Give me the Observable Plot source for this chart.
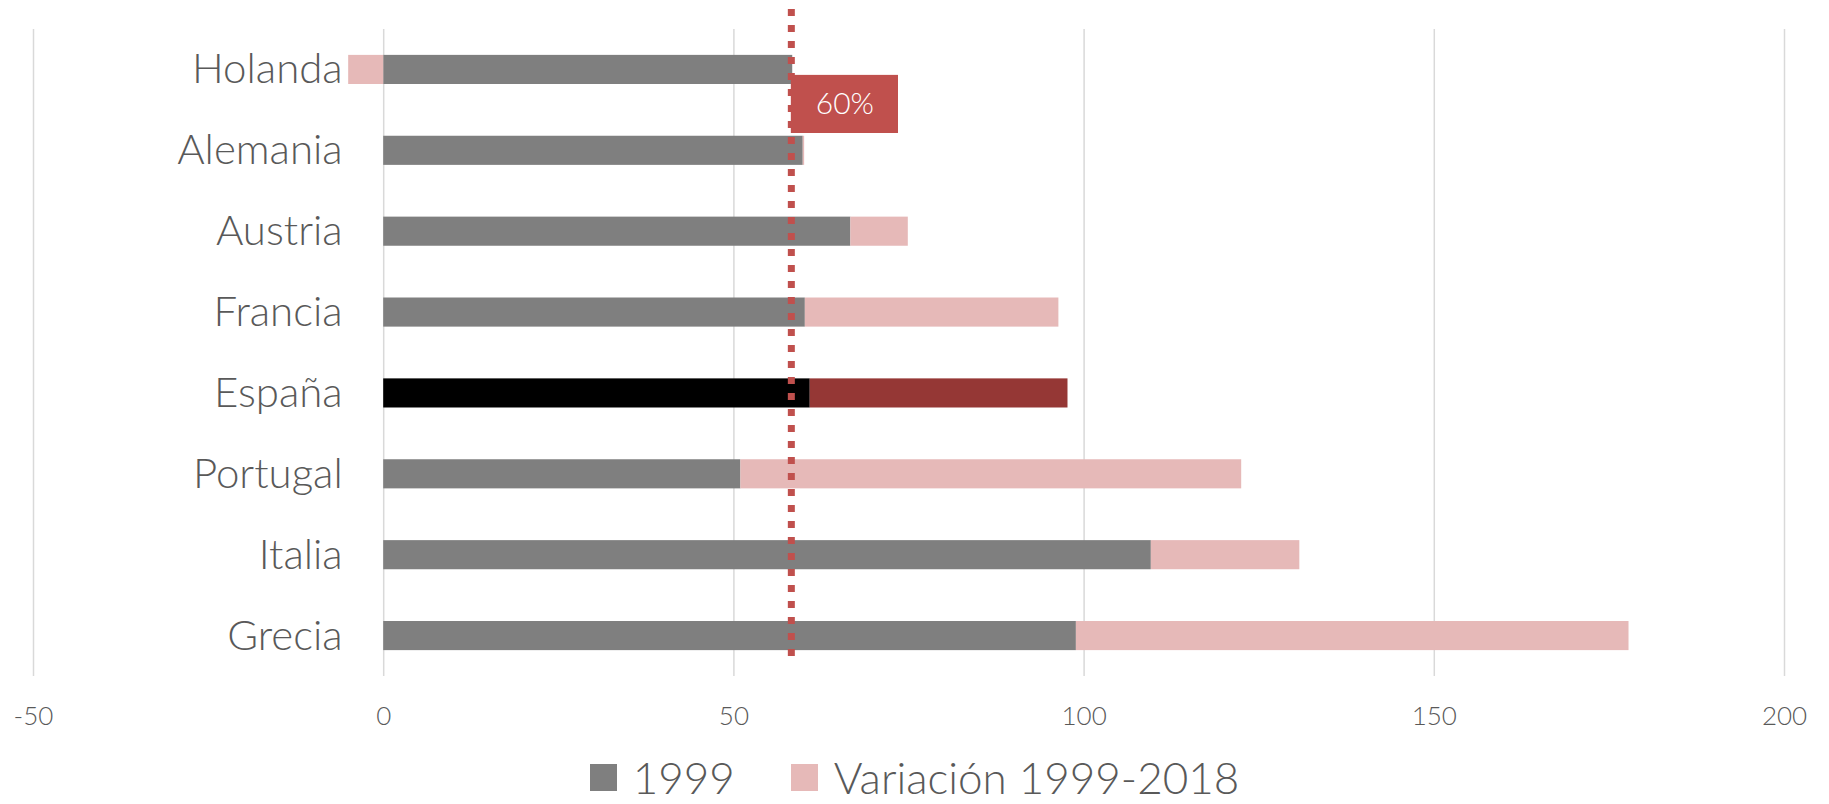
<!DOCTYPE html>
<html>
<head>
<meta charset="utf-8">
<script src="https://cdn.jsdelivr.net/npm/d3@7"></script>
<script src="https://cdn.jsdelivr.net/npm/@observablehq/plot@0.6"></script>
<style>
  html, body { margin: 0; padding: 0; background: #fff; }
  body { width: 1829px; height: 804px; overflow: hidden; font-family: "Lato", "Open Sans", sans-serif; font-weight: 300; color: #595959; }
  #legend { display: flex; justify-content: center; align-items: center; height: 50px; margin-top: 2px; }
  .item { display: flex; align-items: center; }
  .sw { width: 27px; height: 27px; margin-right: 16px; }
  .lbl { font-size: 44px; line-height: 1; }
</style>
</head>
<body>
<div id="chart"></div>
<div id="legend"></div>
<script>
// ---- data ----
const countries = ["Holanda", "Alemania", "Austria", "Francia", "España", "Portugal", "Italia", "Grecia"];
const debt1999  = [58.4, 59.9, 66.7, 60.2, 60.9, 51.0, 109.6, 98.9];
const variation = [-5.0, 0.2, 8.2, 36.2, 36.8, 71.5, 21.2, 78.9];
const seriesNames = ["1999", "Variación 1999-2018"];
const xTicks = [-50, 0, 50, 100, 150, 200];
const refValue = 58.2;
const refLabel = "60%";
const refBoxEnd = 73.5;
const highlight = "España";

// ---- colours ----
const colors = { "1999": "#7F7F7F", "Variación 1999-2018": "#E6B9B8" };
const hiColors = { "1999": "#000000", "Variación 1999-2018": "#953735" };

const rows = [];
countries.forEach((c, i) => {
  rows.push({ country: c, series: seriesNames[0], value: debt1999[i] });
  rows.push({ country: c, series: seriesNames[1], value: variation[i] });
});

const chart = Plot.plot({
  width: 1829,
  height: 750,
  marginLeft: 33,
  marginRight: 45,
  marginTop: 29,
  marginBottom: 74,
  style: { fontFamily: "Lato, 'Open Sans', sans-serif", fontWeight: 300, color: "#595959", background: "#fff" },
  x: { domain: [-50, 200], axis: null, round: false },
  y: { domain: countries, paddingInner: 0.64, paddingOuter: 0.32, axis: null, round: false },
  marks: [
    Plot.gridX(xTicks, { stroke: "#D9D9D9", strokeOpacity: 1, strokeWidth: 1.5 }),
    Plot.barX(rows, Plot.stackX({
      x: "value",
      y: "country",
      fill: d => (d.country === highlight ? hiColors : colors)[d.series]
    })),
    Plot.ruleX([refValue], { stroke: "#C0504D", strokeWidth: 7, strokeDasharray: "7 9", insetTop: -20, insetBottom: 17 }),
    Plot.barX([refLabel], { x1: refValue, x2: refBoxEnd, y: () => countries[0], fill: "#C0504D", insetTop: 20, insetBottom: -49 }),
    Plot.text([refLabel], { x: (refValue + refBoxEnd) / 2, y: () => countries[0], text: d => d, dy: 34, fill: "#fff", fontSize: 30, fontWeight: 300 }),
    Plot.text(countries, { x: () => 0, y: d => d, text: d => d, textAnchor: "end", dx: -41, fontSize: 42, fill: "#595959" }),
    Plot.axisX({ ticks: xTicks, tickSize: 0, tickPadding: 30, fontSize: 26, tickFormat: d => String(d), fill: "#595959", anchor: "bottom", label: null })
  ]
});
document.getElementById("chart").appendChild(chart);

// ---- legend ----
const legend = document.getElementById("legend");
seriesNames.forEach((s, i) => {
  const it = document.createElement("div");
  it.className = "item";
  if (i > 0) it.style.marginLeft = "56px";
  const sw = document.createElement("div");
  sw.className = "sw";
  sw.style.background = colors[s];
  const lb = document.createElement("span");
  lb.className = "lbl";
  lb.textContent = s;
  it.appendChild(sw);
  it.appendChild(lb);
  legend.appendChild(it);
});
</script>
</body>
</html>
